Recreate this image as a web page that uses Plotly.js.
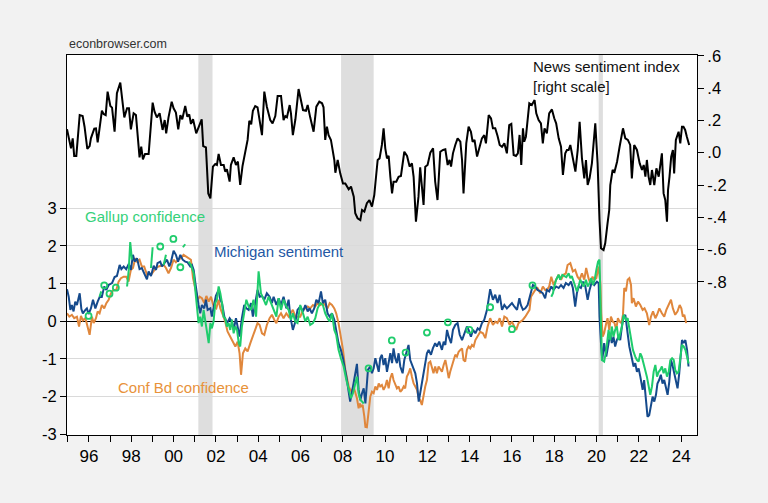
<!DOCTYPE html>
<html>
<head>
<meta charset="utf-8">
<script src="https://cdn.plot.ly/plotly-3.0.1.min.js"></script>
<style>html,body{margin:0;padding:0;background:#f2f2f2;}#chart{width:768px;height:503px;}</style>
</head>
<body>
<div id="chart"></div>
<script>
// ---------------- DATA ----------------
const recessionStart = [2001.17, 2007.92, 2020.10];
const recessionEnd   = [2001.84, 2009.46, 2020.30];

// News sentiment index (right scale)
const newsX = [
1994.96,1995.07,1995.15,1995.23,1995.30,1995.40,1995.56,1995.70,1995.79,1995.92,
1996.03,1996.09,1996.25,1996.33,1996.41,1996.49,1996.61,1996.69,1996.79,1996.88,
1997.01,1997.09,1997.21,1997.32,1997.48,1997.67,1997.80,1997.89,1997.98,1998.11,
1998.22,1998.39,1998.47,1998.55,1998.65,1998.82,1999.01,1999.10,1999.21,1999.34,
1999.48,1999.58,1999.65,1999.76,1999.91,2000.00,2000.11,2000.22,2000.32,2000.41,
2000.55,2000.65,2000.74,2000.82,2000.92,2001.07,2001.21,2001.33,2001.40,2001.53,
2001.64,2001.74,2001.86,2001.97,2002.05,2002.13,2002.24,2002.37,2002.44,2002.52,
2002.65,2002.71,2002.84,2002.95,2003.04,2003.15,2003.26,2003.39,2003.50,2003.58,
2003.67,2003.75,2003.86,2003.97,2004.07,2004.18,2004.29,2004.41,2004.57,2004.68,
2004.81,2004.92,2005.08,2005.20,2005.28,2005.36,2005.49,2005.55,2005.64,2005.76,
2005.91,2006.02,2006.12,2006.26,2006.34,2006.46,2006.62,2006.75,2006.89,2007.02,
2007.09,2007.17,2007.25,2007.33,2007.44,2007.60,2007.65,2007.76,2007.88,2008.01,
2008.12,2008.28,2008.39,2008.52,2008.59,2008.70,2008.83,2008.91,2009.02,2009.14,
2009.26,2009.38,2009.49,2009.55,2009.65,2009.74,2009.85,2009.93,2010.01,2010.09,
2010.17,2010.25,2010.33,2010.40,2010.53,2010.64,2010.75,2010.91,2011.04,2011.16,
2011.27,2011.35,2011.46,2011.58,2011.66,2011.82,2011.90,2012.01,2012.14,2012.27,
2012.37,2012.48,2012.61,2012.74,2012.85,2012.96,2013.05,2013.12,2013.21,2013.32,
2013.43,2013.56,2013.64,2013.71,2013.84,2013.95,2014.06,2014.14,2014.23,2014.35,
2014.47,2014.58,2014.69,2014.77,2014.90,2015.01,2015.10,2015.21,2015.32,2015.42,
2015.53,2015.64,2015.76,2015.87,2015.97,2016.08,2016.19,2016.28,2016.36,2016.44,
2016.52,2016.58,2016.66,2016.82,2016.94,2017.07,2017.15,2017.26,2017.37,2017.46,
2017.54,2017.65,2017.76,2017.89,2018.00,2018.09,2018.21,2018.32,2018.41,2018.52,
2018.60,2018.68,2018.76,2018.87,2019.00,2019.11,2019.20,2019.31,2019.42,2019.50,
2019.58,2019.67,2019.78,2019.94,2020.05,2020.14,2020.21,2020.33,2020.41,2020.52,
2020.60,2020.65,2020.76,2020.85,2020.97,2021.09,2021.25,2021.36,2021.48,2021.59,
2021.67,2021.78,2021.91,2022.04,2022.15,2022.23,2022.31,2022.38,2022.46,2022.54,
2022.62,2022.73,2022.83,2022.94,2023.01,2023.09,2023.17,2023.25,2023.33,2023.38,
2023.45,2023.53,2023.61,2023.67,2023.75,2023.88,2023.96,2024.04,2024.11,2024.19,
2024.27,2024.38];
const newsY = [
0.145,0.079,0.027,0.089,-0.02,-0.02,0.233,0.227,0.161,0.023,
0.041,0.089,0.149,0.151,0.064,0.141,0.260,0.240,0.233,0.378,
0.289,0.279,0.130,0.368,0.434,0.219,0.275,0.275,0.145,0.244,
0.233,-0.029,0.037,-0.041,-0.008,-0.008,0.310,0.254,0.219,0.244,
0.141,0.202,0.120,0.219,0.316,0.275,0.248,0.145,0.233,0.207,
0.289,0.223,0.237,0.178,0.207,0.120,0.161,0.207,0.041,0.033,
-0.252,-0.283,-0.086,-0.070,-0.076,-0.008,-0.076,-0.076,-0.117,-0.103,
-0.179,-0.076,-0.029,-0.076,-0.055,-0.200,-0.082,-0.004,0.079,0.198,
0.176,0.260,0.289,0.281,0.202,0.109,0.378,0.285,0.202,0.182,
0.227,0.351,0.351,0.202,0.227,0.219,0.295,0.244,0.109,0.207,
0.394,0.316,0.264,0.260,0.295,0.219,0.130,0.285,0.316,0.306,
0.281,0.079,0.161,0.109,0.079,-0.045,-0.124,-0.045,-0.128,-0.190,
-0.190,-0.227,-0.210,-0.272,-0.375,-0.406,-0.417,-0.355,-0.365,-0.313,
-0.293,-0.334,-0.262,-0.180,-0.045,-0.035,0.048,0.151,0.027,-0.035,
-0.020,-0.149,-0.252,-0.180,-0.180,-0.149,-0.144,0.006,-0.020,-0.086,
-0.066,-0.149,-0.427,-0.272,-0.091,-0.324,-0.087,-0.076,0.000,0.027,
-0.180,-0.293,0.006,0.017,0.021,-0.076,-0.045,-0.086,-0.004,0.048,
0.089,0.068,-0.045,-0.252,0.058,0.161,0.130,0.068,0.079,-0.024,
0.041,0.089,0.109,0.058,0.233,0.213,0.151,0.151,0.103,0.048,
0.037,0.058,-0.004,0.171,0.178,-0.014,-0.020,-0.004,0.110,-0.076,
0.151,0.068,0.099,0.306,0.295,0.326,0.244,0.202,0.182,0.058,
0.151,0.120,0.244,0.268,0.213,0.182,0.089,0.037,-0.138,-0.004,
0.017,0.017,0.048,-0.024,-0.117,0.017,0.192,-0.035,-0.159,-0.045,
-0.200,-0.159,-0.066,0.182,-0.066,-0.417,-0.592,-0.603,-0.561,-0.437,
-0.355,-0.200,-0.107,-0.118,-0.056,0.037,0.151,0.089,0.079,0.048,
-0.159,0.048,0.017,-0.066,-0.107,-0.076,-0.148,-0.045,-0.148,-0.200,
-0.107,-0.200,-0.097,-0.148,-0.086,-0.004,-0.252,-0.293,-0.427,-0.231,
-0.148,-0.024,0.017,-0.128,0.079,0.130,0.058,0.161,0.161,0.141,
0.099,0.048];

// Michigan sentiment (left scale)
const michX = [
1994.96,1995.04,1995.12,1995.19,1995.27,1995.35,1995.43,1995.56,1995.64,1995.71,
1995.83,1995.90,1995.98,1996.09,1996.19,1996.30,1996.41,1996.53,1996.61,1996.72,
1996.82,1996.93,1997.09,1997.21,1997.32,1997.45,1997.53,1997.64,1997.76,1997.88,
1997.98,1998.08,1998.16,1998.27,1998.39,1998.50,1998.61,1998.74,1998.82,1998.93,
1999.06,1999.17,1999.24,1999.37,1999.45,1999.56,1999.69,1999.80,1999.88,2000.00,
2000.11,2000.21,2000.32,2000.43,2000.55,2000.66,2000.79,2000.87,2000.95,2001.03,
2001.11,2001.18,2001.26,2001.34,2001.45,2001.53,2001.61,2001.74,2001.81,2001.89,
2002.00,2002.13,2002.21,2002.29,2002.40,2002.53,2002.65,2002.76,2002.84,2002.95,
2003.03,2003.12,2003.23,2003.34,2003.44,2003.55,2003.66,2003.75,2003.86,2003.97,
2004.07,2004.18,2004.29,2004.41,2004.54,2004.65,2004.73,2004.86,2004.97,2005.08,
2005.20,2005.33,2005.44,2005.52,2005.64,2005.76,2005.86,2005.99,2006.12,2006.23,
2006.34,2006.43,2006.54,2006.65,2006.75,2006.86,2006.97,2007.06,2007.17,2007.28,
2007.38,2007.49,2007.60,2007.69,2007.80,2007.91,2008.01,2008.17,2008.35,2008.51,
2008.59,2008.67,2008.75,2008.83,2008.91,2008.99,2009.07,2009.11,2009.19,2009.30,
2009.38,2009.46,2009.54,2009.62,2009.70,2009.77,2009.85,2009.93,2010.01,2010.09,
2010.17,2010.25,2010.33,2010.40,2010.48,2010.56,2010.64,2010.72,2010.83,2010.91,
2011.00,2011.11,2011.19,2011.27,2011.35,2011.43,2011.51,2011.59,2011.66,2011.74,
2011.82,2011.90,2011.98,2012.06,2012.17,2012.26,2012.37,2012.45,2012.56,2012.69,
2012.77,2012.85,2012.93,2013.01,2013.12,2013.21,2013.32,2013.43,2013.53,2013.64,
2013.75,2013.87,2013.95,2014.06,2014.16,2014.27,2014.38,2014.47,2014.58,2014.69,
2014.82,2014.90,2014.97,2015.10,2015.21,2015.32,2015.42,2015.53,2015.64,2015.76,
2015.89,2016.00,2016.11,2016.24,2016.35,2016.42,2016.52,2016.63,2016.74,2016.83,
2016.91,2016.99,2017.10,2017.21,2017.34,2017.46,2017.57,2017.65,2017.76,2017.86,
2017.97,2018.09,2018.21,2018.32,2018.44,2018.55,2018.68,2018.79,2018.88,2018.99,
2019.07,2019.15,2019.26,2019.36,2019.47,2019.58,2019.67,2019.78,2019.89,2020.02,
2020.10,2020.14,2020.21,2020.27,2020.36,2020.46,2020.57,2020.65,2020.72,2020.80,
2020.88,2020.96,2021.04,2021.12,2021.20,2021.28,2021.36,2021.40,2021.47,2021.55,
2021.63,2021.67,2021.75,2021.83,2021.91,2021.99,2022.07,2022.18,2022.25,2022.33,
2022.41,2022.49,2022.57,2022.65,2022.73,2022.81,2022.88,2022.96,2023.04,2023.12,
2023.20,2023.28,2023.36,2023.44,2023.52,2023.59,2023.67,2023.75,2023.83,2023.91,
2023.99,2024.04,2024.12,2024.20,2024.28,2024.35];
const michY = [
0.85,0.65,0.30,0.43,0.26,0.52,0.43,0.74,0.32,0.21,
0.30,0.34,0.19,0.34,0.57,0.34,0.52,0.67,0.65,0.92,
0.83,0.96,1.01,1.17,1.20,1.49,1.38,1.45,1.38,1.52,
1.36,1.76,1.58,1.67,1.38,1.41,1.27,1.11,1.32,1.20,
1.47,1.36,1.54,1.58,1.45,1.52,1.63,1.45,1.58,1.87,
1.76,1.58,1.76,1.63,1.58,1.56,1.45,1.49,1.36,1.01,
0.67,0.43,0.21,0.43,0.34,0.57,0.30,0.34,0.12,0.34,
0.67,0.83,0.57,0.48,0.12,-0.05,0.08,-0.01,-0.23,0.08,
-0.14,-0.41,0.08,0.43,0.34,0.30,0.48,0.12,0.48,0.83,
0.65,0.67,0.57,0.74,0.65,0.48,0.65,0.43,0.61,0.43,
0.65,0.34,0.57,0.12,-0.23,-0.01,0.30,0.39,0.26,0.43,
0.26,0.34,0.21,0.34,0.57,0.48,0.79,0.48,0.57,0.21,
0.12,0.21,0.04,-0.23,-0.58,-0.76,-0.98,-1.47,-2.13,-1.65,
-1.42,-1.13,-1.82,-2.09,-1.91,-1.78,-2.18,-1.82,-1.29,-1.20,
-1.38,-1.25,-0.98,-1.16,-1.34,-0.98,-0.89,-1.16,-0.98,-1.34,
-1.03,-0.85,-1.11,-0.72,-0.98,-1.11,-0.85,-1.20,-1.38,-1.03,
-0.85,-0.63,-1.03,-1.16,-1.29,-1.38,-1.65,-2.13,-1.91,-1.65,
-1.47,-1.20,-0.85,-0.76,-0.89,-0.72,-0.58,-0.67,-0.54,-0.76,
-0.54,-0.63,-0.23,-0.41,-0.58,-0.23,-0.10,-0.05,-0.36,-0.50,
-0.32,-0.14,-0.23,-0.41,-0.23,-0.32,-0.19,-0.23,-0.05,0.04,
0.30,0.57,0.85,0.57,0.70,0.48,0.70,0.30,0.43,0.34,
0.43,0.48,0.39,0.30,0.61,0.43,0.30,0.34,0.43,0.65,
0.83,0.96,0.92,0.83,0.79,0.74,0.61,0.83,0.79,0.92,
0.83,0.92,0.88,0.96,0.88,1.01,0.96,1.05,0.88,0.39,
0.74,0.92,0.88,1.05,0.92,0.57,0.83,1.05,0.96,1.05,
1.01,0.12,-0.58,-1.03,-0.58,-0.94,-0.58,-0.32,-0.58,-0.41,
-0.67,-0.50,-0.41,-0.50,-0.14,0.12,0.17,-0.05,-0.32,-0.67,
-0.94,-0.98,-1.20,-1.11,-1.34,-1.25,-1.47,-1.82,-1.56,-2.04,
-2.53,-2.49,-2.22,-2.00,-2.13,-1.95,-1.65,-1.56,-1.42,-1.65,
-1.56,-1.73,-1.95,-1.60,-1.03,-1.16,-1.38,-1.56,-1.78,-1.38,
-0.85,-0.50,-0.58,-0.50,-0.76,-1.20];

// Conference Board confidence (left scale)
const confX = [
1994.96,1995.07,1995.19,1995.30,1995.43,1995.53,1995.62,1995.71,1995.83,1995.94,
1996.03,1996.14,1996.22,1996.33,1996.41,1996.50,1996.61,1996.72,1996.82,1996.93,
1997.04,1997.16,1997.29,1997.40,1997.51,1997.64,1997.76,1997.87,1997.98,1998.08,
1998.19,1998.27,1998.39,1998.50,1998.61,1998.74,1998.82,1998.93,1999.06,1999.17,
1999.29,1999.40,1999.53,1999.64,1999.76,1999.88,2000.00,2000.11,2000.24,2000.35,
2000.47,2000.58,2000.71,2000.82,2000.92,2001.03,2001.14,2001.23,2001.34,2001.45,
2001.55,2001.66,2001.77,2001.89,2002.02,2002.13,2002.21,2002.33,2002.44,2002.55,
2002.68,2002.79,2002.92,2003.03,2003.12,2003.19,2003.28,2003.39,2003.50,2003.63,
2003.74,2003.86,2003.97,2004.07,2004.18,2004.29,2004.41,2004.54,2004.65,2004.76,
2004.86,2004.97,2005.08,2005.20,2005.33,2005.44,2005.52,2005.64,2005.76,2005.86,
2005.99,2006.12,2006.23,2006.34,2006.46,2006.59,2006.70,2006.81,2006.94,2007.06,
2007.17,2007.28,2007.38,2007.49,2007.60,2007.69,2007.80,2007.91,2008.01,2008.12,
2008.20,2008.28,2008.36,2008.43,2008.51,2008.59,2008.67,2008.75,2008.80,2008.86,
2008.94,2009.02,2009.07,2009.14,2009.19,2009.25,2009.30,2009.38,2009.46,2009.54,
2009.62,2009.70,2009.77,2009.85,2009.93,2010.01,2010.09,2010.17,2010.25,2010.33,
2010.40,2010.48,2010.56,2010.64,2010.72,2010.80,2010.88,2010.95,2011.03,2011.11,
2011.19,2011.27,2011.35,2011.43,2011.51,2011.59,2011.66,2011.74,2011.82,2011.90,
2011.98,2012.06,2012.14,2012.21,2012.29,2012.37,2012.45,2012.53,2012.61,2012.69,
2012.77,2012.85,2012.93,2013.01,2013.08,2013.16,2013.24,2013.32,2013.40,2013.48,
2013.56,2013.64,2013.71,2013.79,2013.87,2013.95,2014.03,2014.11,2014.19,2014.27,
2014.50,2014.63,2014.74,2014.85,2014.97,2015.10,2015.21,2015.32,2015.42,2015.53,
2015.64,2015.76,2015.89,2016.00,2016.11,2016.20,2016.31,2016.42,2016.52,2016.63,
2016.74,2016.83,2016.90,2016.99,2017.10,2017.21,2017.34,2017.46,2017.57,2017.65,
2017.76,2017.86,2017.97,2018.09,2018.21,2018.32,2018.44,2018.55,2018.63,2018.76,
2018.88,2018.99,2019.10,2019.20,2019.31,2019.42,2019.51,2019.62,2019.70,2019.81,
2019.89,2019.99,2020.10,2020.18,2020.22,2020.29,2020.36,2020.46,2020.52,2020.60,
2020.68,2020.77,2020.85,2020.93,2021.01,2021.09,2021.17,2021.25,2021.31,2021.39,
2021.47,2021.55,2021.63,2021.67,2021.75,2021.86,2021.96,2022.07,2022.18,2022.27,
2022.38,2022.49,2022.57,2022.67,2022.78,2022.86,2022.97,2023.09,2023.20,2023.30,
2023.41,2023.52,2023.61,2023.72,2023.83,2023.93,2024.01,2024.08,2024.15,2024.24];
const confY = [
0.21,0.12,0.17,0.08,0.12,-0.14,0.14,0.02,0.08,-0.14,
-0.36,0.12,-0.05,0.08,0.26,0.21,0.43,0.34,0.48,0.57,
0.74,0.83,0.83,1.05,1.14,1.18,1.18,1.05,1.36,1.41,
1.67,1.58,1.63,1.45,1.45,1.23,1.27,1.23,1.32,1.41,
1.45,1.47,1.49,1.41,1.27,1.41,1.63,1.56,1.64,1.67,
1.76,1.72,1.67,1.63,1.14,0.83,0.57,0.65,0.61,0.48,
0.67,0.52,0.65,0.39,0.34,0.57,0.34,0.17,-0.01,-0.27,
-0.41,-0.54,-0.67,-0.54,-0.85,-1.42,-0.85,-0.72,-0.80,-0.58,
-0.41,-0.27,-0.05,-0.10,-0.32,-0.36,-0.10,0.08,0.17,0.04,
-0.05,0.12,0.21,0.08,0.21,0.12,0.19,0.30,0.12,0.12,
0.12,0.30,0.34,0.39,0.34,0.43,0.39,0.48,0.43,0.48,
0.43,0.34,0.48,0.43,0.34,0.21,-0.05,-0.41,-0.76,-1.29,
-1.51,-1.73,-1.82,-1.87,-1.73,-1.91,-2.04,-2.31,-2.18,-2.26,
-2.22,-2.53,-2.80,-2.81,-2.62,-2.26,-2.00,-1.87,-1.91,-1.73,
-1.82,-1.65,-1.73,-1.69,-1.82,-1.73,-1.56,-1.78,-1.51,-1.38,
-1.56,-1.69,-1.78,-1.73,-1.87,-1.82,-1.73,-1.78,-1.47,-1.38,
-1.25,-1.47,-1.65,-1.73,-1.82,-2.04,-2.09,-2.22,-1.95,-1.73,
-1.56,-1.11,-1.07,-1.20,-1.38,-1.20,-1.38,-1.20,-1.29,-1.34,
-1.16,-1.03,-1.25,-1.51,-1.34,-1.20,-1.03,-0.89,-0.94,-0.81,
-0.76,-0.72,-1.03,-1.07,-0.76,-0.67,-0.72,-0.63,-0.67,-0.50,
-0.28,-0.32,-0.45,-0.14,0.08,-0.10,-0.01,-0.05,0.08,-0.14,
0.12,0.08,-0.10,-0.01,-0.14,-0.23,-0.05,-0.01,0.04,0.12,
0.21,0.30,0.65,0.74,0.83,0.88,0.74,0.92,0.83,0.83,
0.92,1.18,0.96,1.10,1.23,1.10,1.23,1.27,1.49,1.54,
1.32,1.36,1.18,1.10,1.27,1.10,1.41,1.14,1.01,1.18,
1.10,1.14,1.45,1.01,0.21,-0.41,-0.32,-0.05,0.08,-0.23,
0.12,-0.01,-0.05,-0.23,0.08,-0.01,-0.05,0.17,0.88,0.79,
1.10,1.14,0.96,0.48,0.61,0.39,0.52,0.43,0.30,0.34,
0.21,-0.10,0.12,0.26,0.08,0.17,0.34,0.21,0.12,0.30,
0.43,0.57,0.34,0.17,0.26,0.43,0.34,0.12,0.17,-0.05];

// Gallup economic confidence (left scale); null = no observation
const gallupX = [
1995.98,null,1996.50,1996.58,null,1996.72,null,1996.97,null,1997.27,null,
1997.80,1997.88,1997.95,1998.03,null,1998.93,1999.01,null,1999.37,null,
1999.53,1999.64,null,1999.99,null,2000.32,null,2000.44,2000.55,null,
2000.71,2000.82,2000.95,2001.03,2001.11,2001.18,2001.26,2001.34,2001.42,2001.50,
2001.58,2001.66,2001.74,2001.81,2001.89,2001.97,2002.05,2002.13,2002.21,2002.29,
2002.36,2002.44,2002.52,2002.60,2002.68,2002.76,2002.84,2002.92,2003.00,2003.08,
2003.15,2003.23,2003.31,2003.44,2003.55,2003.66,2003.78,2003.90,2004.02,2004.13,
2004.26,2004.37,2004.49,2004.60,2004.73,2004.86,2004.97,2005.08,2005.20,2005.33,
2005.44,2005.55,2005.64,2005.76,2005.86,2005.99,2006.12,2006.23,2006.34,2006.46,
2006.59,2006.70,2006.81,2006.94,2007.06,2007.17,2007.28,2007.38,2007.49,2007.60,
2007.69,2007.80,2007.91,2008.04,2008.17,2008.28,2008.39,2008.48,2008.59,2008.67,
2008.75,2008.83,2008.91,2008.99,null,
2009.22,null,2010.32,null,2010.97,null,2011.98,null,2012.97,null,2013.99,null,
2014.97,null,2016.00,null,2016.97,null,
2017.86,2017.94,2018.00,2018.09,2018.21,2018.28,2018.38,2018.47,2018.57,2018.68,
2018.76,2018.83,2018.91,2018.99,2019.07,2019.15,2019.23,2019.31,2019.39,2019.50,
2019.58,2019.67,2019.75,2019.83,2019.91,2019.99,2020.07,2020.14,2020.21,2020.25,
2020.36,2020.46,2020.57,2020.65,2020.72,2020.80,2020.88,2020.96,2021.04,2021.12,
2021.20,2021.28,2021.39,2021.47,2021.55,2021.63,2021.72,2021.83,2021.91,2021.99,
2022.07,2022.14,2022.22,2022.30,2022.38,2022.46,2022.54,2022.62,2022.70,2022.78,
2022.86,2022.94,2023.01,2023.09,2023.17,2023.25,2023.33,2023.41,2023.49,2023.57,
2023.65,2023.72,2023.80,2023.88,2023.96,2024.04,2024.12,2024.20,2024.28,2024.35];
const gallupY = [
0.14,null,0.65,0.79,null,0.95,null,0.73,null,0.89,null,
0.92,1.36,2.10,1.63,null,1.41,1.96,null,1.98,null,
1.49,1.76,null,2.18,null,1.43,null,1.96,2.04,null,
1.58,1.49,1.27,0.83,0.34,-0.05,0.12,-0.14,0.30,-0.01,
-0.23,-0.58,-0.05,-0.19,-0.01,0.48,0.57,0.92,0.74,0.48,
0.12,0.08,-0.14,-0.05,-0.23,0.04,-0.32,-0.14,-0.23,-0.58,
-0.67,-0.14,0.12,0.57,0.39,0.30,0.57,0.12,1.32,0.74,
0.57,0.43,0.65,0.48,0.30,0.12,0.61,0.30,0.57,0.39,
0.30,0.04,0.21,-0.01,-0.05,0.43,0.21,-0.01,0.12,-0.10,
-0.05,0.08,0.34,0.48,0.43,0.21,0.08,-0.01,0.21,-0.23,
-0.36,-0.76,-0.98,-1.20,-1.56,-1.82,-2.04,-1.91,-1.65,-1.47,
-1.91,-2.09,-2.13,-2.18,null,
-1.25,null,-0.51,null,-0.83,null,-0.30,null,-0.03,null,-0.23,null,
0.37,null,-0.21,null,0.95,null,
0.65,0.74,0.92,1.10,1.23,1.10,1.23,1.20,1.17,1.27,
1.14,1.20,1.05,0.96,0.79,0.92,1.10,1.01,0.92,1.10,
0.92,1.01,1.14,0.96,1.10,1.36,1.58,1.63,0.30,-1.03,
-1.07,-0.76,-0.23,-0.50,-0.14,-0.41,-0.23,-0.14,-0.50,-0.32,
-0.14,0.17,0.04,0.08,-0.23,-0.50,-0.76,-0.94,-1.03,-1.07,
-0.85,-0.94,-1.16,-1.29,-1.47,-1.73,-1.95,-1.73,-1.34,-1.16,
-1.47,-1.34,-1.29,-1.20,-1.38,-1.25,-1.47,-1.34,-1.03,-0.98,
-1.03,-1.29,-1.38,-1.34,-0.94,-0.63,-0.67,-0.76,-0.94,-1.12];

// Axis ticks
const tickYears = [1995,1996,1997,1998,1999,2000,2001,2002,2003,2004,2005,2006,2007,2008,2009,2010,
  2011,2012,2013,2014,2015,2016,2017,2018,2019,2020,2021,2022,2023,2024];
const yearLabels = ['','96','','98','','00','','02','','04','','06','','08','','10',
  '','12','','14','','16','','18','','20','','22','','24'];
const leftTicks = [-3,-2,-1,0,1,2,3];
const leftLabels = ['-3','-2','-1','0','1','2','3'];
const rightTicks = [-0.8,-0.6,-0.4,-0.2,0,0.2,0.4,0.6];
const rightLabels = ['-.8','-.6','-.4','-.2','.0','.2','.4','.6'];

// ---------------- CHART ----------------
const C_BLUE = '#154a8c', C_ORANGE = '#e0873c', C_GREEN = '#1fcc6c', C_BLACK = '#000000';

// isolated Gallup observations get a hollow circle
const isoX = [], isoY = [];
for (let i = 0; i < gallupY.length; i++) {
  if (gallupY[i] === null) continue;
  const prevNull = i === 0 || gallupY[i-1] === null;
  const nextNull = i === gallupY.length-1 || gallupY[i+1] === null;
  if (prevNull && nextNull) { isoX.push(gallupX[i]); isoY.push(gallupY[i]); }
}

const traces = [
  {x: confX, y: confY, type: 'scatter', mode: 'lines', line: {color: C_ORANGE, width: 2}, yaxis: 'y'},
  {x: michX, y: michY, type: 'scatter', mode: 'lines', line: {color: C_BLUE, width: 2}, yaxis: 'y'},
  {x: gallupX, y: gallupY, type: 'scatter', mode: 'lines', connectgaps: false, line: {color: C_GREEN, width: 2}, yaxis: 'y'},
  {x: isoX, y: isoY, type: 'scatter', mode: 'markers', marker: {symbol: 'circle-open', size: 6, color: C_GREEN, line: {width: 1.8, color: C_GREEN}}, yaxis: 'y'},
  {x: newsX, y: newsY, type: 'scatter', mode: 'lines', line: {color: C_BLACK, width: 2}, yaxis: 'y2'}
];

const shapes = recessionStart.map((s, i) => ({
  type: 'rect', xref: 'x', yref: 'paper', x0: s, x1: recessionEnd[i], y0: 0, y1: 1,
  fillcolor: '#dedede', line: {width: 0}, layer: 'below'
}));

const FONT = 'Liberation Sans, Arial, Helvetica, sans-serif';
const layout = {
  width: 768, height: 503,
  paper_bgcolor: '#f2f2f2', plot_bgcolor: '#ffffff',
  margin: {l: 67, r: 71, t: 55, b: 68, pad: 0},
  showlegend: false,
  font: {family: FONT, size: 15, color: '#000'},
  xaxis: {
    range: [1994.96, 2024.75], tickmode: 'array', tickvals: tickYears, ticktext: yearLabels,
    ticks: 'outside', ticklen: 6, tickcolor: '#000', tickwidth: 1,
    showline: true, linecolor: '#000', linewidth: 1, mirror: true,
    showgrid: false, zeroline: false, tickfont: {size: 17, family: FONT}
  },
  yaxis: {
    range: [-3.016, 7.056], tickmode: 'array', tickvals: leftTicks, ticktext: leftLabels,
    ticks: 'outside', ticklen: 6, tickcolor: '#000', tickwidth: 1,
    showline: true, linecolor: '#000', linewidth: 1, mirror: true,
    showgrid: true, gridcolor: '#dadada', gridwidth: 1,
    zeroline: true, zerolinecolor: '#000', zerolinewidth: 1,
    tickfont: {size: 16.5, family: FONT}
  },
  yaxis2: {
    overlaying: 'y', side: 'right', range: [-1.748, 0.605],
    tickmode: 'array', tickvals: rightTicks, ticktext: rightLabels,
    ticks: 'outside', ticklen: 6, tickcolor: '#000', tickwidth: 1,
    showline: false, showgrid: false, zeroline: false,
    tickfont: {size: 16.5, family: FONT}
  },
  shapes: shapes,
  annotations: [
    {text: 'econbrowser.com', xref: 'paper', yref: 'paper', x: 0, y: 1.029, xanchor: 'left', yanchor: 'middle', showarrow: false, font: {family: FONT, size: 12.5, color: '#333'}},
    {text: 'Gallup confidence', xref: 'paper', yref: 'paper', x: 0.026, y: 0.576, xanchor: 'left', yanchor: 'middle', showarrow: false, font: {family: FONT, size: 15, color: '#35d17a'}},
    {text: 'Michigan sentiment', xref: 'paper', yref: 'paper', x: 0.230, y: 0.484, xanchor: 'left', yanchor: 'middle', showarrow: false, font: {family: FONT, size: 15, color: '#2458a4'}},
    {text: 'Conf Bd confidence', xref: 'paper', yref: 'paper', x: 0.077, y: 0.124, xanchor: 'left', yanchor: 'middle', showarrow: false, font: {family: FONT, size: 15, color: '#e8923a'}},
    {text: 'News sentiment index', xref: 'paper', yref: 'paper', x: 0.736, y: 0.971, xanchor: 'left', yanchor: 'middle', showarrow: false, font: {family: FONT, size: 15, color: '#111'}},
    {text: '[right scale]', xref: 'paper', yref: 'paper', x: 0.736, y: 0.916, xanchor: 'left', yanchor: 'middle', showarrow: false, font: {family: FONT, size: 15, color: '#111'}}
  ]
};

Plotly.newPlot('chart', traces, layout, {staticPlot: true, displayModeBar: false});
</script>
</body>
</html>
